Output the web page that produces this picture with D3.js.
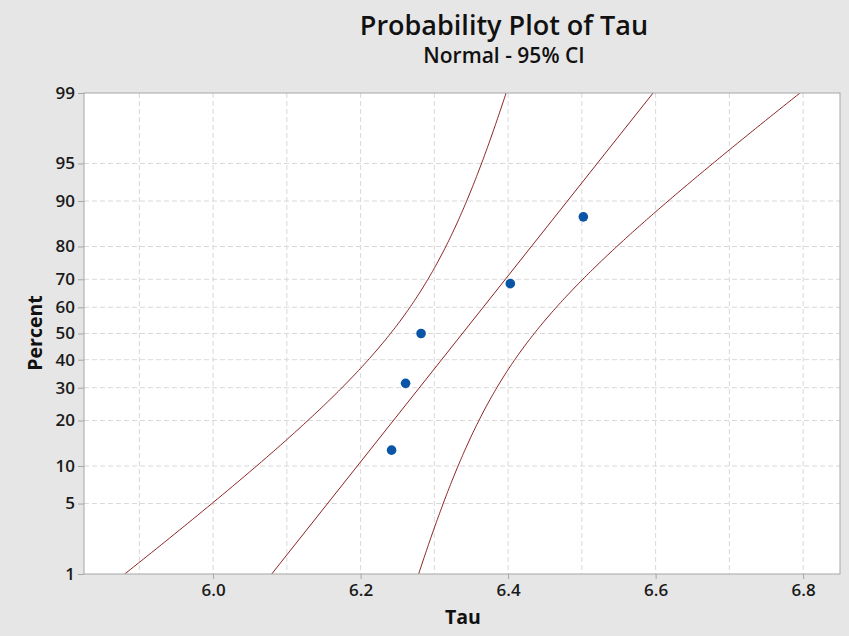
<!DOCTYPE html>
<html>
<head>
<meta charset="utf-8">
<script src="https://cdn.jsdelivr.net/npm/d3@7"></script>
<style>
  html, body { margin: 0; padding: 0; background: #e6e6e6; }
  svg { display: block; }
</style>
</head>
<body>
<svg id="chart" width="849" height="636"></svg>
<script>
// ---- data ----
const tauValues = [6.242, 6.261, 6.282, 6.403, 6.502];
const percentValues = [12.96, 31.48, 50.0, 68.52, 87.04];
const yTickPercents = [1, 5, 10, 20, 30, 40, 50, 60, 70, 80, 90, 95, 99];
const xTickValues = [6.0, 6.2, 6.4, 6.6, 6.8];
const xGridValues = [5.9, 6.0, 6.1, 6.2, 6.3, 6.4, 6.5, 6.6, 6.7, 6.8];
const confidenceLevel = 0.95;

// inverse standard normal CDF (Acklam)
function qnorm(p) {
  const a = [-3.969683028665376e+01, 2.209460984245205e+02, -2.759285104469687e+02, 1.383577518672690e+02, -3.066479806614716e+01, 2.506628277459239e+00];
  const b = [-5.447609879822406e+01, 1.615858368580409e+02, -1.556989798598866e+02, 6.680131188771972e+01, -1.328068155288572e+01];
  const c = [-7.784894002430293e-03, -3.223964580411365e-01, -2.400758277161838e+00, -2.549732539343734e+00, 4.374664141464968e+00, 2.938163982698783e+00];
  const d = [7.784695709041462e-03, 3.224671290700398e-01, 2.445134137142996e+00, 3.754408661907416e+00];
  const pl = 0.02425, ph = 1 - pl;
  let q, r;
  if (p < pl) { q = Math.sqrt(-2 * Math.log(p));
    return (((((c[0]*q+c[1])*q+c[2])*q+c[3])*q+c[4])*q+c[5]) / ((((d[0]*q+d[1])*q+d[2])*q+d[3])*q+1); }
  if (p <= ph) { q = p - 0.5; r = q*q;
    return (((((a[0]*r+a[1])*r+a[2])*r+a[3])*r+a[4])*r+a[5])*q / (((((b[0]*r+b[1])*r+b[2])*r+b[3])*r+b[4])*r+1); }
  q = Math.sqrt(-2 * Math.log(1 - p));
  return -(((((c[0]*q+c[1])*q+c[2])*q+c[3])*q+c[4])*q+c[5]) / ((((d[0]*q+d[1])*q+d[2])*q+d[3])*q+1);
}

const svg = d3.select("#chart");
const W = 849, H = 636;
const L = 84, R = 840, T = 93, B = 574;

svg.append("rect").attr("x", 0).attr("y", 0).attr("width", W).attr("height", H).attr("fill", "#e6e6e6");

const x = d3.scaleLinear().domain([5.825, 6.85]).range([L, R]);
const zMax = qnorm(0.99);
const y = d3.scaleLinear().domain([-zMax, zMax]).range([B, T]);

// plot background
svg.append("rect").attr("x", L).attr("y", T).attr("width", R - L).attr("height", B - T).attr("fill", "#ffffff");

// grid
const grid = svg.append("g");
grid.selectAll("line.v").data(xGridValues).enter().append("line")
  .attr("x1", d => x(d)).attr("x2", d => x(d)).attr("y1", T).attr("y2", B)
  .attr("stroke", "#d9d9d9").attr("stroke-width", 1).attr("stroke-dasharray", "5,3");
grid.selectAll("line.h").data(yTickPercents.filter(p => p > 1 && p < 99)).enter().append("line")
  .attr("x1", L).attr("x2", R).attr("y1", d => y(qnorm(d / 100))).attr("y2", d => y(qnorm(d / 100)))
  .attr("stroke", "#d9d9d9").attr("stroke-width", 1).attr("stroke-dasharray", "5,3");

// fit
const n = tauValues.length;
const mu = d3.mean(tauValues);
const s = d3.deviation(tauValues);
const zc = qnorm(1 - (1 - confidenceLevel) / 2);
const zs = d3.range(-3.2, 3.2001, 0.02);
svg.append("clipPath").attr("id", "clip").append("rect")
  .attr("x", L).attr("y", T).attr("width", R - L).attr("height", B - T);

const lineGen = d3.line().x(d => x(d[0])).y(d => y(d[1])).curve(d3.curveLinear);
const fitPts = [[mu - zMax * 1.2 * s, -zMax * 1.2], [mu + zMax * 1.2 * s, zMax * 1.2]];
const half = z => zc * Math.sqrt(s * s / n + z * z * s * s / (2 * n - 1.5));
const lowerPts = zs.map(z => [mu + z * s - half(z), z]);
const upperPts = zs.map(z => [mu + z * s + half(z), z]);

const lines = svg.append("g").attr("clip-path", "url(#clip)");
[fitPts, lowerPts, upperPts].forEach(pts => {
  lines.append("path").attr("d", lineGen(pts)).attr("fill", "none")
    .attr("stroke", "#8b2323").attr("stroke-width", 1);
});

// points
svg.append("g").selectAll("circle").data(tauValues).enter().append("circle")
  .attr("cx", d => x(d)).attr("cy", (d, i) => y(qnorm(percentValues[i] / 100)))
  .attr("r", 4.8).attr("fill", "#0a55a5");

// frame
svg.append("rect").attr("x", L).attr("y", T).attr("width", R - L).attr("height", B - T)
  .attr("fill", "none").attr("stroke", "#a6a6a6").attr("stroke-width", 1);

// axes
const font = "'Open Sans', 'Noto Sans', sans-serif";
const yAxis = d3.axisLeft(y).tickValues(yTickPercents.map(p => qnorm(p / 100)))
  .tickFormat((d, i) => String(yTickPercents[i])).tickSize(6).tickPadding(3);
const gy = svg.append("g").attr("transform", `translate(${L},0)`).call(yAxis);
const xAxis = d3.axisBottom(x).tickValues(xTickValues).tickFormat(d3.format(".1f")).tickSize(5).tickPadding(5);
const gx = svg.append("g").attr("transform", `translate(0,${B})`).call(xAxis);
[gy, gx].forEach(g => {
  g.select(".domain").remove();
  g.selectAll(".tick line").attr("stroke", "#a6a6a6");
  g.selectAll(".tick text").attr("fill", "#1a1a1a").style("font-family", font)
    .style("font-size", "17px").style("font-weight", "600");
});

// titles
svg.append("text").attr("x", 504).attr("y", 35).attr("text-anchor", "middle")
  .style("font-family", font).style("font-size", "27px").style("font-weight", "600")
  .attr("fill", "#111").text("Probability Plot of Tau");
svg.append("text").attr("x", 504).attr("y", 63).attr("text-anchor", "middle")
  .style("font-family", font).style("font-size", "21px").style("font-weight", "600")
  .attr("fill", "#111").text("Normal - 95% CI");
svg.append("text").attr("x", 463).attr("y", 624).attr("text-anchor", "middle")
  .style("font-family", font).style("font-size", "19.5px").style("font-weight", "700")
  .attr("fill", "#111").text("Tau");
svg.append("text").attr("transform", `translate(42,333) rotate(-90)`).attr("text-anchor", "middle")
  .style("font-family", font).style("font-size", "19.5px").style("font-weight", "700")
  .attr("fill", "#111").text("Percent");
</script>
</body>
</html>
